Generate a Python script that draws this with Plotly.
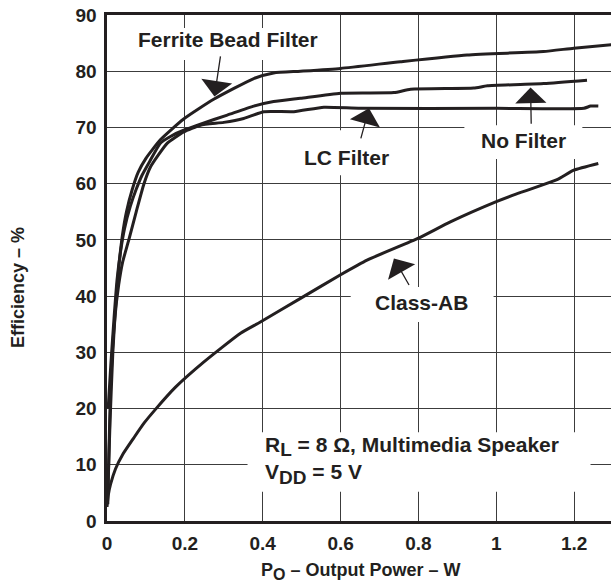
import plotly.graph_objects as go

# ---- data ----
ferrite_x = [0.002, 0.008, 0.015, 0.022, 0.03, 0.04, 0.05, 0.065, 0.08, 0.1, 0.137, 0.197,
             0.274, 0.377, 0.428, 0.497, 0.6, 0.754, 0.925, 1.121, 1.199, 1.296]
ferrite_y = [5, 18, 30, 38, 45, 51, 55, 59, 62, 64.5, 67.8, 71.5,
             75, 78.7, 79.7, 80, 80.5, 81.7, 82.9, 83.5, 84.1, 84.7]

nofilter_x = [0.003, 0.01, 0.018, 0.026, 0.035, 0.045, 0.06, 0.075, 0.09, 0.11, 0.137, 0.163,
              0.197, 0.24, 0.309, 0.377, 0.428, 0.497, 0.6, 0.737, 0.78, 0.942, 0.977, 1.122, 1.233]
nofilter_y = [20, 28, 36, 43, 48, 52, 56, 59, 61.5, 64, 67.2, 68.4,
              69.5, 70.6, 72.2, 73.8, 74.6, 75.2, 76.1, 76.2, 76.8, 77.0, 77.4, 77.8, 78.4]

lc_x = [0.002, 0.01, 0.02, 0.03, 0.04, 0.056, 0.075, 0.095, 0.112, 0.155, 0.197, 0.24,
        0.3, 0.351, 0.403, 0.48, 0.557, 0.651, 1.0, 1.225, 1.242, 1.262]
lc_y = [3, 25, 36, 42, 46, 50, 55, 60, 63, 67.2, 69.2, 70.4,
        70.9, 71.6, 72.8, 72.8, 73.6, 73.4, 73.4, 73.4, 73.8, 73.8]

classab_x = [0, 0.003, 0.009, 0.022, 0.04, 0.069, 0.095, 0.125, 0.176,
             0.249, 0.343, 0.394, 0.497, 0.6, 0.668, 0.8, 0.882, 1.0, 1.045, 1.156, 1.199, 1.262]
classab_y = [2.5, 4.5, 6.5, 9.3, 11.8, 14.8, 17.4, 19.9, 23.8,
             28.3, 33.4, 35.4, 39.6, 43.8, 46.4, 50.3, 53.2, 56.8, 58.0, 60.7, 62.4, 63.6]

x_ticks = [0, 0.2, 0.4, 0.6, 0.8, 1.0, 1.2]
x_tick_labels = ["0", "0.2", "0.4", "0.6", "0.8", "1", "1.2"]
y_ticks = [0, 10, 20, 30, 40, 50, 60, 70, 80, 90]

INK = "#231f20"
FONT = "Arial, Liberation Sans, sans-serif"

fig = go.Figure()
for xs, ys in [(ferrite_x, ferrite_y), (nofilter_x, nofilter_y), (lc_x, lc_y), (classab_x, classab_y)]:
    fig.add_trace(go.Scatter(x=xs, y=ys, mode="lines", line=dict(color=INK, width=3, shape="spline", smoothing=0.5),
                             showlegend=False, hoverinfo="skip"))

# white boxes that break the grid behind labels
boxes = [
    (0.081, 0.543, 82.0, 87.7),
    (0.492, 0.741, 61.5, 69.5),
    (0.918, 1.221, 64.4, 70.4),
    (0.626, 0.993, 35.4, 41.6),
    (0.361, 1.242, 5.2, 15.8),
]
for x0, x1, y0, y1 in boxes:
    fig.add_shape(type="rect", x0=x0, x1=x1, y0=y0, y1=y1, xref="x", yref="y",
                  fillcolor="white", line=dict(width=0), layer="between")

lab_font = dict(family=FONT, size=21, color=INK, weight="bold")
labels = [
    ("Ferrite Bead Filter", 0.312, 85.6),
    ("LC Filter", 0.615, 64.7),
    ("No Filter", 1.07, 67.6),
    ("Class-AB", 0.808, 38.9),
]
for t, x, y in labels:
    fig.add_annotation(text=t, x=x, y=y, xref="x", yref="y", showarrow=False, font=lab_font,
                       xanchor="center", yanchor="middle")

fig.add_annotation(text="R<sub><span style='font-size:19px'>L</span></sub> = 8 Ω, Multimedia Speaker<br>"
                        "V<sub><span style='font-size:19px'>DD</span></sub> = 5 V",
                   x=0.4, y=10.8, xref="x", yref="y", showarrow=False, font=lab_font,
                   xanchor="left", yanchor="middle", align="left")

# arrows: (tail_x, tail_y, tip_x, tip_y)
arrows = [
    (0.292, 82.9, 0.276, 75.5),
    (0.651, 67.8, 0.673, 73.4),
    (1.0897, 70.4, 1.088, 77.1),
    (0.778, 41.7, 0.737, 46.7),
]
for ax_, ay_, x, y in arrows:
    fig.add_annotation(text="", x=x, y=y, ax=ax_, ay=ay_, xref="x", yref="y", axref="x", ayref="y",
                       showarrow=True, arrowhead=1, arrowsize=4, arrowwidth=1.3, arrowcolor=INK,
                       standoff=0, startstandoff=0)

# axis titles
fig.add_annotation(text="P<sub><span style='font-size:16px'>O</span></sub> – Output Power – W",
                   x=0.502, y=-0.1, xref="paper", yref="paper",
                   showarrow=False, font=dict(family=FONT, size=18, color=INK, weight="bold"),
                   xanchor="center", yanchor="middle")
fig.add_annotation(text="Efficiency – %", x=-0.1766, y=0.4625, xref="paper", yref="paper",
                   showarrow=False, textangle=-90, font=dict(family=FONT, size=18, color=INK, weight="bold"),
                   xanchor="center", yanchor="middle")

tick_font = dict(family=FONT, size=19, color=INK, weight="bold")
fig.update_xaxes(range=[0, 1.2946], tickvals=x_ticks, ticktext=x_tick_labels, showgrid=True,
                 gridcolor="#3c3c3c", gridwidth=1.2, zeroline=False, showline=True, linecolor=INK,
                 linewidth=2.6, mirror=True, ticks="", tickfont=tick_font, ticklabelstandoff=4)
fig.update_yaxes(range=[0, 90], tickvals=y_ticks, showgrid=True, gridcolor="#3c3c3c", gridwidth=1.2,
                 zeroline=False, showline=True, linecolor=INK, linewidth=2.6, mirror=False, ticks="",
                 tickfont=tick_font, ticklabelstandoff=4)

fig.update_layout(width=611, height=583, margin=dict(l=107, r=0, t=15, b=62),
                  plot_bgcolor="white", paper_bgcolor="white", showlegend=False)

# remove the default 8px page margin so the figure sits at the window's corner
fig.write_html("out.html", config={"displayModeBar": False, "staticPlot": True},
               post_script="document.body.style.margin='0';document.body.style.overflow='hidden';")
